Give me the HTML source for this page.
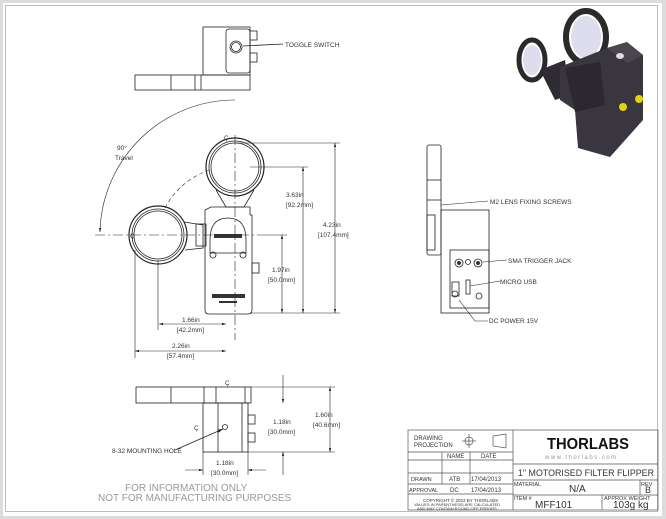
<!DOCTYPE html>
<html><head><meta charset="utf-8"><style>
html,body{margin:0;padding:0;background:#d9d9d9;}
svg{display:block;font-family:"Liberation Sans",sans-serif;}
text{fill:#333;}
</style></head><body>
<svg width="666" height="519" viewBox="0 0 666 519" xmlns="http://www.w3.org/2000/svg">
<defs><marker id="a" viewBox="0 0 10 6" refX="10" refY="3" markerWidth="8" markerHeight="4" orient="auto-start-reverse"><path d="M0 0 L10 3 L0 6 Z" fill="#222"/></marker></defs>
<rect x="0" y="0" width="666" height="519" fill="#dcdcdc"/>
<rect x="3" y="3" width="659" height="513" fill="#fff"/>
<rect x="5.5" y="5.5" width="652" height="506" fill="none" stroke="#bbb" stroke-width="1"/>
<g stroke="#222" stroke-width="0.8" fill="none">
<rect x="135" y="75" width="115" height="15"/>
<line x1="171" y1="75" x2="171" y2="90"/><line x1="195" y1="75" x2="195" y2="90"/><line x1="201" y1="75" x2="201" y2="90"/>
<rect x="203" y="27" width="47" height="48"/>
<rect x="226" y="29" width="24" height="44" rx="3"/>
<circle cx="236" cy="47" r="6"/><circle cx="236" cy="47" r="4.5"/>
<rect x="250" y="31" width="7" height="9"/><rect x="250" y="53" width="7" height="9"/>
<line x1="243" y1="46" x2="283" y2="44"/>
<circle cx="235" cy="167" r="29" stroke-width="1.2"/><circle cx="235" cy="167" r="26"/><circle cx="235" cy="167" r="24"/>
<circle cx="158" cy="235" r="29" stroke-width="1.2"/><circle cx="158" cy="235" r="26"/><circle cx="158" cy="235" r="24"/>
<path d="M216 190 L226 207 L244 207 L254 190"/>
<path d="M184 222 L203 225 L203 248 L185 250"/>
<rect x="196" y="224" width="10" height="22"/>
<path d="M205 210 L211 207 L250 207 L250 215 L252 215 L252 310 Q252 314 248 314 L209 314 Q205 314 205 310 Z"/>
<path d="M210 240 Q210 218 228 218 Q246 218 246 240 L246 253 L210 253 Z"/>
<rect x="252" y="263" width="7" height="10"/>
<circle cx="213" cy="255" r="3"/><circle cx="243" cy="255" r="3"/>
<rect x="427" y="145" width="14" height="110" rx="2"/>
<line x1="427" y1="180" x2="441" y2="180"/><line x1="427" y1="200" x2="441" y2="200"/>
<rect x="427" y="215" width="8" height="35"/>
<rect x="441" y="210" width="48" height="103"/>
<rect x="450" y="250" width="39" height="58"/>
<circle cx="459" cy="263" r="4"/><circle cx="478" cy="263" r="4"/><circle cx="468" cy="262" r="2.5"/>
<rect x="452" y="282" width="7" height="14"/><circle cx="455" cy="294" r="3"/>
<rect x="466" y="280" width="4" height="14"/><circle cx="479" cy="296" r="3"/>
<rect x="136" y="387" width="115" height="16"/>
<line x1="171" y1="387" x2="171" y2="403"/><line x1="204" y1="387" x2="204" y2="403"/><line x1="216" y1="387" x2="216" y2="403"/><line x1="245" y1="387" x2="245" y2="403"/>
<rect x="203" y="403" width="45" height="49"/>
<line x1="218" y1="403" x2="218" y2="452"/><line x1="242" y1="403" x2="242" y2="452"/>
<rect x="248" y="415" width="7" height="9"/><rect x="248" y="433" width="7" height="9"/>
<circle cx="225" cy="427" r="2.5"/>
<line x1="175" y1="450" x2="223" y2="429" marker-end="url(#a)"/>
</g>
<g fill="#333">
<rect x="214" y="234" width="28" height="4"/><rect x="212" y="294" width="33" height="4"/><rect x="219" y="301" width="18" height="2"/>
<circle cx="459" cy="263" r="2"/><circle cx="478" cy="263" r="2"/>
</g>
<g stroke="#222" stroke-width="0.6" fill="none">
<line x1="95" y1="235" x2="262" y2="235" stroke-dasharray="10,3,2,3"/>
<line x1="235" y1="135" x2="235" y2="340" stroke-dasharray="10,3,2,3"/>
<path d="M100 232 A135 135 0 0 1 235 100" marker-start="url(#a)"/>
<path d="M165 208 A77 77 0 0 1 210 170" stroke-dasharray="4,3"/>
<line x1="235" y1="143" x2="340" y2="143"/><line x1="250" y1="167" x2="308" y2="167"/>
<line x1="250" y1="313" x2="340" y2="313"/><line x1="262" y1="235" x2="287" y2="235"/>
<line x1="335" y1="143" x2="335" y2="313" marker-start="url(#a)" marker-end="url(#a)"/>
<line x1="303" y1="167" x2="303" y2="313" marker-start="url(#a)" marker-end="url(#a)"/>
<line x1="282" y1="235" x2="282" y2="313" marker-start="url(#a)" marker-end="url(#a)"/>
<line x1="158" y1="260" x2="158" y2="330"/><line x1="135" y1="250" x2="135" y2="358"/>
<line x1="159" y1="324" x2="226" y2="324" marker-start="url(#a)" marker-end="url(#a)"/>
<line x1="135" y1="351" x2="226" y2="351" marker-start="url(#a)" marker-end="url(#a)"/>
<line x1="250" y1="387" x2="335" y2="387"/><line x1="248" y1="452" x2="335" y2="452"/>
<line x1="330" y1="387" x2="330" y2="452" marker-start="url(#a)" marker-end="url(#a)"/>
<line x1="283" y1="375" x2="283" y2="403" marker-end="url(#a)"/><line x1="283" y1="475" x2="283" y2="452" marker-end="url(#a)"/>
<line x1="203" y1="452" x2="203" y2="475"/><line x1="248" y1="452" x2="248" y2="475"/>
<line x1="185" y1="470" x2="203" y2="470" marker-end="url(#a)"/><line x1="266" y1="470" x2="248" y2="470" marker-end="url(#a)"/>
<line x1="441" y1="205" x2="488" y2="201"/>
<line x1="483" y1="262" x2="507" y2="260"/><line x1="470" y1="286" x2="500" y2="281"/>
<path d="M459 300 L475 321 L488 321"/>
</g>
<g font-size="6.5">
<text x="285" y="47">TOGGLE SWITCH</text>
<text x="490" y="204">M2 LENS FIXING SCREWS</text>
<text x="508" y="263">SMA TRIGGER JACK</text>
<text x="500" y="284">MICRO USB</text>
<text x="489" y="323">DC POWER 15V</text>
<text x="112" y="453">8-32 MOUNTING HOLE</text>
<text x="117" y="150">90°</text><text x="115" y="160">Travel</text>
<text x="286" y="197">3.63in</text><text x="286" y="207">[92.2mm]</text>
<text x="323" y="227">4.23in</text><text x="318" y="237">[107.4mm]</text>
<text x="272" y="272">1.97in</text><text x="268" y="282">[50.0mm]</text>
<text x="182" y="322">1.66in</text><text x="177" y="332">[42.2mm]</text>
<text x="172" y="348">2.26in</text><text x="167" y="358">[57.4mm]</text>
<text x="273" y="424">1.18in</text><text x="268" y="434">[30.0mm]</text>
<text x="315" y="417">1.60in</text><text x="313" y="427">[40.6mm]</text>
<text x="216" y="465">1.18in</text><text x="211" y="475">[30.0mm]</text>
<text x="224" y="140">Ç</text><text x="130" y="238">Ç</text><text x="225" y="385">Ç</text><text x="194" y="430">Ç</text>
</g>
<g font-size="10"><text x="125" y="491" style="fill:#999">FOR INFORMATION ONLY</text><text x="98" y="501" style="fill:#999">NOT FOR MANUFACTURING PURPOSES</text></g>
<g>
<ellipse cx="532" cy="60" rx="13" ry="20" fill="none" stroke="#2a2a2a" stroke-width="5"/>
<ellipse cx="532" cy="60" rx="9" ry="15" fill="#dde" />
<path d="M540 70 L565 60 L570 95 L555 100 Z" fill="#2e2b33"/>
<ellipse cx="586" cy="37" rx="20" ry="26" fill="none" stroke="#2a2a2a" stroke-width="6"/>
<ellipse cx="586" cy="37" rx="15" ry="21" fill="#dde"/>
<path d="M560 67 L607 48 L627 42 L643 55 L643 120 L610 157 L578 148 L575 110 L560 100 Z" fill="#3a3640"/>
<path d="M565 68 L600 62 L605 105 L575 112 Z" fill="#2b2830"/>
<path d="M607 48 L627 42 L643 55 L628 63 Z" fill="#4a4650"/>
<ellipse cx="620" cy="56" rx="4" ry="3" fill="#ddd"/>
<circle cx="623" cy="107" r="4" fill="#e6d300"/><circle cx="639" cy="99" r="4" fill="#e6d300"/>
</g>
<g stroke="#555" stroke-width="0.7" fill="none">
<rect x="408" y="430" width="250" height="80"/>
<line x1="513" y1="430" x2="513" y2="510"/>
<line x1="408" y1="452" x2="513" y2="452"/><line x1="408" y1="460" x2="513" y2="460"/>
<line x1="408" y1="473" x2="513" y2="473"/><line x1="408" y1="484" x2="513" y2="484"/><line x1="408" y1="494" x2="513" y2="494"/>
<line x1="442" y1="452" x2="442" y2="484"/><line x1="470" y1="452" x2="470" y2="484"/>
<line x1="513" y1="464" x2="658" y2="464"/><line x1="513" y1="480" x2="658" y2="480"/><line x1="513" y1="495" x2="658" y2="495"/>
<line x1="640" y1="480" x2="640" y2="495"/><line x1="602" y1="495" x2="602" y2="510"/>
<circle cx="469" cy="441" r="4"/><line x1="462" y1="441" x2="476" y2="441"/><line x1="469" y1="434" x2="469" y2="448"/>
<path d="M493 436 L506 434 L506 448 L493 446 Z"/>
</g>
<g font-size="6">
<text x="414" y="440">DRAWING</text><text x="414" y="447">PROJECTION</text>
<text x="447" y="458">NAME</text><text x="481" y="458">DATE</text>
<text x="411" y="481" font-size="5.5">DRAWN</text><text x="449" y="481">ATB</text><text x="471" y="481">17/04/2013</text>
<text x="409" y="492" font-size="5.5">APPROVAL</text><text x="450" y="492">DC</text><text x="471" y="492">17/04/2013</text>
<text x="423" y="502" font-size="4.5">COPYRIGHT © 2022 BY THORLABS</text>
<text x="414" y="506" font-size="4">VALUES IN PARENTHESIS ARE CALCULATED</text>
<text x="417" y="510" font-size="4">AND MAY CONTAIN ROUND OFF ERRORS</text>
<text x="514" y="486" font-size="5.5">MATERIAL</text><text x="641" y="486" font-size="5.5">REV</text>
<text x="514" y="500" font-size="5.5">ITEM #</text><text x="604" y="500" font-size="5.5">APPROX WEIGHT</text>
</g>
<text x="547" y="449" font-size="16" font-weight="bold" style="fill:#111" textLength="82" lengthAdjust="spacingAndGlyphs">THORLABS</text>
<text x="545" y="459" font-size="6" style="fill:#999" letter-spacing="1.5">www.thorlabs.com</text>
<text x="518" y="476" font-size="9.5" textLength="136" lengthAdjust="spacingAndGlyphs">1" MOTORISED FILTER FLIPPER</text>
<text x="569" y="492" font-size="10">N/A</text>
<text x="645" y="493" font-size="9">B</text>
<text x="535" y="508" font-size="10">MFF101</text>
<text x="613" y="508" font-size="10">103g kg</text>
</svg>
</body></html>
